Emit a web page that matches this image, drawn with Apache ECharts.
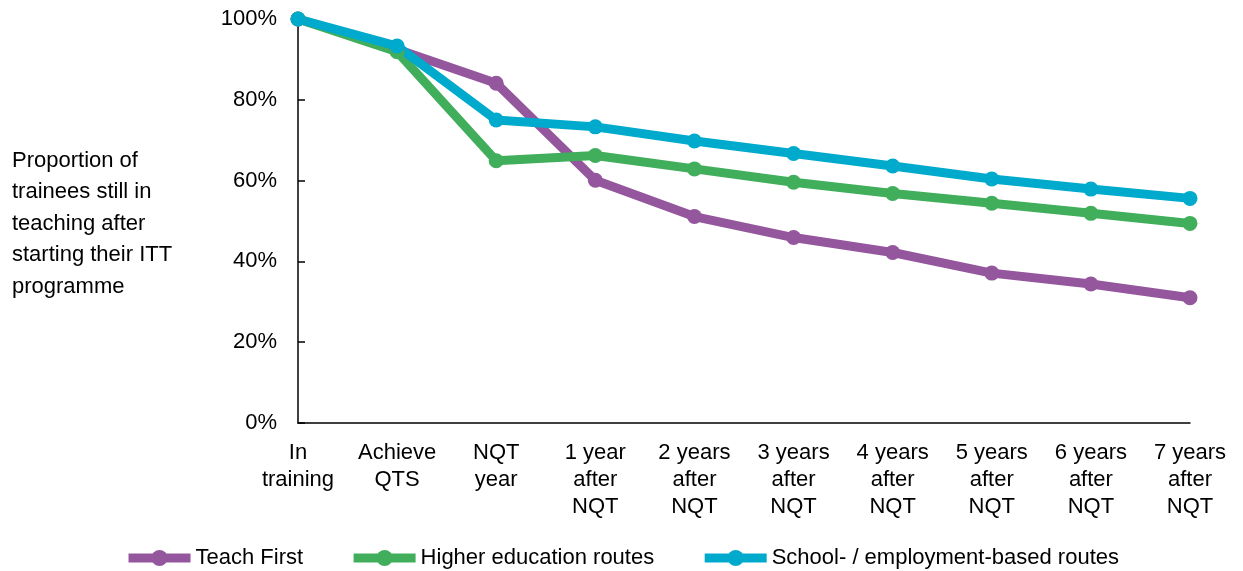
<!DOCTYPE html>
<html>
<head>
<meta charset="utf-8">
<script src="https://cdn.jsdelivr.net/npm/echarts@6/dist/echarts.min.js"></script>
<style>
html,body{margin:0;padding:0;background:#fff;}
#chart{width:1243px;height:571px;}
</style>
</head>
<body>
<div id="chart"></div>
<script>
const categories = ['In\ntraining','Achieve\nQTS','NQT\nyear','1 year\nafter\nNQT','2 years\nafter\nNQT','3 years\nafter\nNQT','4 years\nafter\nNQT','5 years\nafter\nNQT','6 years\nafter\nNQT','7 years\nafter\nNQT'];
const teachFirst = [100, 92.5, 84.1, 60.1, 51.1, 45.9, 42.2, 37.1, 34.4, 31.0];
const higherEd = [100, 91.9, 64.9, 66.2, 62.9, 59.6, 56.8, 54.4, 51.9, 49.4];
const schoolBased = [100, 93.3, 75.0, 73.3, 69.8, 66.7, 63.6, 60.4, 57.9, 55.6];
const seriesNames = ['Teach First','Higher education routes','School- / employment-based routes'];
const colors = ['#94569C','#40AE5B','#00AACC'];
const yTicks = [0,20,40,60,80,100];
const yAxisTitle = 'Proportion of\ntrainees still in\nteaching after\nstarting their ITT\nprogramme';

const FONT = '"Liberation Sans", Arial, sans-serif';
const chart = echarts.init(document.getElementById('chart'), null, {renderer:'canvas'});
const mk = (name, data, color) => ({
  name, type:'line', data,
  symbol:'circle', symbolSize:15,
  lineStyle:{width:9, color},
  itemStyle:{color},
  emphasis:{disabled:true},
  animation:false
});
chart.setOption({
  animation:false,
  textStyle:{fontFamily:FONT},
  grid:{left:298, right:53, top:19, bottom:148, containLabel:false},
  graphic:[{
    type:'text', left:12, top:145,
    style:{text:yAxisTitle, font:'22px ' + FONT, fill:'#000', lineHeight:31.5}
  }],
  xAxis:{
    type:'category', data:categories, boundaryGap:false,
    axisLine:{lineStyle:{color:'#000', width:1.5}},
    axisTick:{show:false},
    axisLabel:{color:'#000', fontSize:22, fontFamily:FONT, lineHeight:27, margin:16, interval:0}
  },
  yAxis:{
    type:'value', min:yTicks[0], max:yTicks[yTicks.length-1], interval:20,
    axisLine:{show:true, lineStyle:{color:'#000', width:1.5}},
    axisTick:{show:true, inside:true, length:7, lineStyle:{color:'#000', width:1.5}},
    splitLine:{show:false},
    axisLabel:{color:'#000', fontSize:22, fontFamily:FONT, margin:21, formatter: v => v + '%'}
  },
  legend:{
    data:seriesNames, left:'center', top:542,
    itemWidth:62, itemHeight:20, itemGap:46,
    lineStyle:{width:9},
    textStyle:{color:'#000', fontSize:22, fontFamily:FONT}
  },
  series:[
    mk(seriesNames[0], teachFirst, colors[0]),
    mk(seriesNames[1], higherEd, colors[1]),
    mk(seriesNames[2], schoolBased, colors[2])
  ]
});
</script>
</body>
</html>
